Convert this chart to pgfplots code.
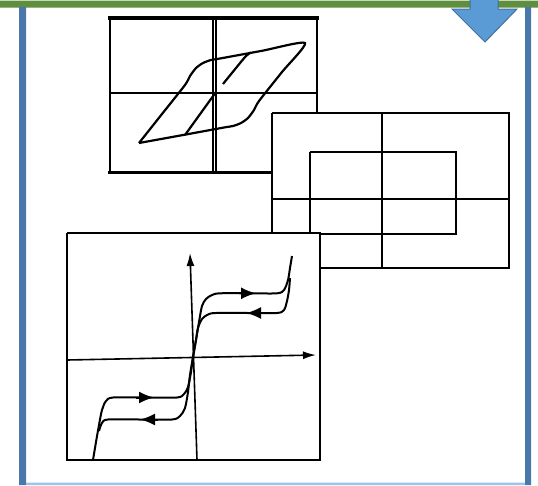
\documentclass[border=0pt]{standalone}
\usepackage{pgfplots}
\pgfplotsset{compat=1.18}
\usetikzlibrary{arrows.meta}
\definecolor{topgreen}{HTML}{5E8E3E}
\definecolor{sidebl}{HTML}{4A78AA}
\definecolor{arrowfill}{HTML}{5B9BD5}
\definecolor{arrowedge}{HTML}{41719C}
\definecolor{bottombl}{HTML}{9DC3E6}
\begin{document}
\begin{tikzpicture}
\begin{axis}[width=538pt,height=485pt,scale only axis,
  xmin=0,xmax=538,ymin=0,ymax=485,y dir=reverse,
  hide axis, clip=true]
% background
\addplot[draw=none,fill=white] coordinates {(0,0)(538,0)(538,485)(0,485)(0,0)};
% frame
\addplot[draw=none,fill=topgreen] coordinates {(0,0.5)(538,0.5)(538,7.5)(0,7.5)(0,0.5)};
\addplot[draw=none,fill=sidebl] coordinates {(19,7)(26,7)(26,485)(19,485)(19,7)};
\addplot[draw=none,fill=sidebl] coordinates {(525,7)(531,7)(531,485)(525,485)(525,7)};
\addplot[draw=none,fill=bottombl] coordinates {(26,482.5)(525,482.5)(525,485)(26,485)(26,482.5)};
% big arrow
\addplot[draw=arrowedge,fill=arrowfill,line width=1pt] coordinates {(470,-1)(498,-1)(498,9)(517,9)(485,42)(452,9)(470,9)(470,-1)};
% ---------------- panel 1 ----------------
\addplot[draw=black,line width=2pt] coordinates {(109.5,17)(109.5,173)};
\addplot[draw=black,line width=2pt] coordinates {(317,17)(317,173)};
\addplot[draw=black,line width=4pt] coordinates {(108,17.5)(319,17.5)};
\addplot[draw=black,line width=3.5pt] coordinates {(108,172.5)(319,172.5)};
\addplot[draw=black,line width=2pt] coordinates {(109,93)(318,93)};
\addplot[draw=black,line width=1.2pt] coordinates {(213,17)(213,173)};
\addplot[draw=black,line width=1.2pt] coordinates {(216,17)(216,173)};
\addplot[draw=black,line width=2.2pt,smooth,tension=0.4] coordinates {
 (139,143)(162,114)(185,85)(190,76)(196,68)(203,63)(211,60)(220,58.5)(262,50.8)(305,43)
 (282,72)(259,101)(254,110)(248,118)(241,123)(233,126)(224,127.5)(182,135.2)(139,143)};
\addplot[draw=black,line width=2.2pt] coordinates {(185,135)(216,92)};
\addplot[draw=black,line width=2.2pt,smooth] coordinates {(223,84)(236,68)(246,56)(251,52.5)};
% ---------------- panel 2 ----------------
\addplot[draw=black,fill=white,line width=1.5pt] coordinates {(272,113)(509,113)(509,268)(272,268)(272,113)};
\addplot[draw=black,line width=1.5pt] coordinates {(382,113)(382,268)};
\addplot[draw=black,line width=1.5pt] coordinates {(272,199)(509,199)};
\addplot[draw=black,line width=1.5pt] coordinates {(310,152)(456,152)(456,234)(310,234)(310,152)};
% ---------------- panel 3 ----------------
\addplot[draw=black,fill=white,line width=2pt] coordinates {(67,233)(320,233)(320,460)(67,460)(67,233)};
\addplot[draw=black,line width=1.6pt,-{Latex[length=13pt,width=8pt]}] coordinates {(67,360)(316,355)};
\addplot[draw=black,line width=1.6pt,-{Latex[length=13pt,width=8pt]}] coordinates {(197,460)(190,253)};
% upper right loop
\addplot[draw=black,line width=2pt,smooth,tension=0.5] coordinates {
 (193,357)(196,340)(199,322)(202,306)(206,299)(212,295)(220,293.3)(250,293.3)(277,293.3)(284,290)(288,280)(290,268)(292,256)};
\addplot[draw=black,line width=2pt,smooth,tension=0.5] coordinates {
 (193,357)(196,340)(198,328)(202,319)(208,314.5)(216,313)(250,313)(277,313)(284,310)(287,301)(289,290)(290,278)};
\addplot[draw=black,line width=2pt,-{Latex[length=15pt,width=12pt]}] coordinates {(238,293.3)(256,293.3)};
\addplot[draw=black,line width=2pt,-{Latex[length=15pt,width=12pt]}] coordinates {(264,313)(246,313)};
% lower left loop
\addplot[draw=black,line width=2pt,smooth,tension=0.5] coordinates {
 (193,357)(191,372)(188,387)(184,394)(177,397.5)(145,397.5)(113,397.5)(106,401)(102,410)(99,425)(96,442)(93,460)};
\addplot[draw=black,line width=2pt,smooth,tension=0.5] coordinates {
 (193,357)(190,375)(188,392)(185,408)(180,416)(172,419.5)(140,419.5)(108,419.5)(102,423)(99,431)};
\addplot[draw=black,line width=2pt,-{Latex[length=15pt,width=12pt]}] coordinates {(136,397.5)(154,397.5)};
\addplot[draw=black,line width=2pt,-{Latex[length=15pt,width=12pt]}] coordinates {(158,419.5)(140,419.5)};
\end{axis}
\end{tikzpicture}
\end{document}
